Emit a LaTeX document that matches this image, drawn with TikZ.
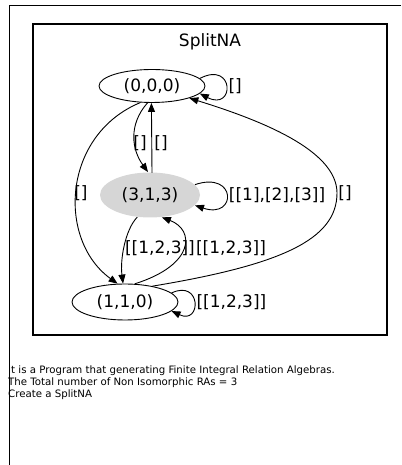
\documentclass[tikz,border=0pt]{standalone}
\usepackage{fontspec}
\setmainfont{DejaVu Sans}
\usetikzlibrary{arrows.meta,shapes.geometric}
\begin{document}
\begin{tikzpicture}[x=1pt,y=1pt,
  state/.style={ellipse,draw,line width=0.9pt,inner sep=0pt,font=\fontsize{17}{19}\selectfont},
  edge/.style={line width=0.9pt,-{Triangle[length=9pt,width=7pt]}},
  lbl/.style={font=\fontsize{17}{19}\selectfont,inner sep=1pt},
  msg/.style={font=\fontsize{10.2}{12}\selectfont,anchor=west,inner sep=0pt}]
\useasboundingbox (0,0) rectangle (401,465);
% outer frame
\draw[line width=1.6pt] (401,459.5) -- (9.5,459.5) -- (9.5,0);
% inner box
\draw[line width=1.3pt] (33,441) rectangle (387,130);
\node[lbl] (title) at (210,423) {SplitNA};
% states
\node[state,minimum width=106pt,minimum height=33pt] (n0) at (152,379) {(0,0,0)};
\node[state,draw=none,fill=gray!32,minimum width=100pt,minimum height=45pt] (n3) at (150,270) {(3,1,3)};
\node[state,minimum width=106pt,minimum height=36pt] (n1) at (125,163) {(1,1,0)};
\coordinate (r10) at (337,272);
% edges
\draw[edge] (n0.9) .. controls +(35,18) and +(35,-18) .. node[lbl,anchor=west,xshift=1pt] {[]} (n0.-9);
\draw[edge] (n0.255) .. controls (128,340) and (132,315) .. (n3.95);
\node[lbl] (l03) at (140,322) {[]};
\draw[edge] (152,292) -- (n0.268);
\node[lbl] (l30) at (161,322) {[]};
\draw[edge] (n0.235) .. controls (62,330) and (57,225) .. (n1.112);
\node[lbl] (l01) at (81,272) {[]};
\draw[edge] (n1.30) .. controls (280,200) and (337,225) .. (r10) .. controls (337,315) and (260,345) .. (n0.-18);
\node[lbl] (l10) at (345,272) {[]};
\draw[edge] (n3.13) .. controls +(42,14) and +(42,-14) .. node[lbl,anchor=west,xshift=1pt] {[[1],[2],[3]]} (n3.-13);
\draw[edge] (n3.240) .. controls (125,235) and (120,205) .. (n1.96);
\node[lbl] (l31) at (160,217) {[[1,2,3]]};
\draw[edge] (n1.62) .. controls (195,200) and (195,235) .. (n3.-62);
\node[lbl] (l13) at (231,217) {[[1,2,3]]};
\draw[edge] (n1.11) .. controls +(30,14) and +(30,-14) .. node[lbl,anchor=west,xshift=1pt] {[[1,2,3]]} (n1.-11);
% messages
\node[msg] (m1) at (8,94) {It is a Program that generating Finite Integral Relation Algebras.};
\node[msg] (m2) at (8,82) {The Total number of Non Isomorphic RAs = 3};
\node[msg] (m3) at (8,70) {Create a SplitNA};
\end{tikzpicture}
\end{document}
